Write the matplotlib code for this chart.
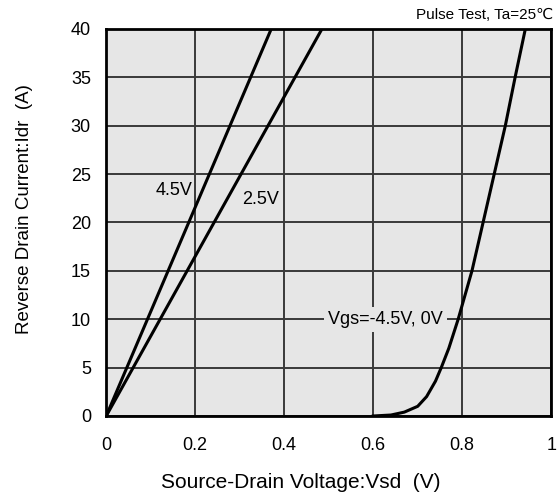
import matplotlib
matplotlib.use("Agg")
import matplotlib.pyplot as plt

plt.rcParams['font.family'] = ['Liberation Sans', 'DejaVu Sans']

# straight lines (Vgs = 4.5V, 2.5V)
vsd_45 = [0.0, 0.371]
idr_45 = [0.0, 40.0]
vsd_25 = [0.0, 0.485]
idr_25 = [0.0, 40.0]

# body diode curve (Vgs = -4.5V, 0V)
vsd_d = [0.60, 0.64, 0.67, 0.70, 0.72, 0.74, 0.753, 0.77, 0.791, 0.822, 0.847, 0.872, 0.897, 0.919, 0.942]
idr_d = [0.0, 0.1, 0.4, 1.0, 2.0, 3.6, 5.0, 7.0, 10.0, 15.0, 20.0, 25.0, 30.0, 35.0, 40.0]

xticks = [0, 0.2, 0.4, 0.6, 0.8, 1]
xticklabels = ['0', '0.2', '0.4', '0.6', '0.8', '1']
yticks = [0, 5, 10, 15, 20, 25, 30, 35, 40]

fig = plt.figure(figsize=(5.59, 4.97), dpi=100)
ax = fig.add_axes([0.19, 0.163, 0.796, 0.779])
ax.set_facecolor('#e6e6e6')

ax.plot(vsd_45, idr_45, color='black', lw=2.2, zorder=3)
ax.plot(vsd_25, idr_25, color='black', lw=2.2, zorder=3)
ax.plot(vsd_d, idr_d, color='black', lw=2.2, zorder=3)

ax.set_xlim(0, 1)
ax.set_ylim(0, 40)
ax.set_xticks(xticks)
ax.set_xticklabels(xticklabels)
ax.set_yticks(yticks)
ax.tick_params(length=0, labelsize=13)
ax.tick_params(axis='y', pad=11)
ax.tick_params(axis='x', pad=15)
ax.grid(True, color='#3a3a3a', lw=1.4, zorder=1)
ax.set_axisbelow(True)
for s in ax.spines.values():
    s.set_linewidth(2)
    s.set_color('black')

ax.text(0.153, 23.3, '4.5V', fontsize=13, ha='center', va='center', zorder=4)
ax.text(0.346, 22.4, '2.5V', fontsize=13, ha='center', va='center', zorder=4)
ax.text(0.627, 10, 'Vgs=-4.5V, 0V', fontsize=13, ha='center', va='center', zorder=4,
        bbox=dict(facecolor='#e6e6e6', edgecolor='none', pad=3))

ax.set_xlabel('Source-Drain Voltage:Vsd  (V)', fontsize=15)
ax.xaxis.set_label_coords(0.438, -0.147)
ax.set_ylabel('Reverse Drain Current:Idr  (A)', fontsize=13.5)
ax.yaxis.set_label_coords(-0.164, 0.535)
fig.text(0.99, 0.970, 'Pulse Test, Ta=25\u2103', fontsize=11, ha='right', va='center')

fig.savefig('out.png', dpi=100)
